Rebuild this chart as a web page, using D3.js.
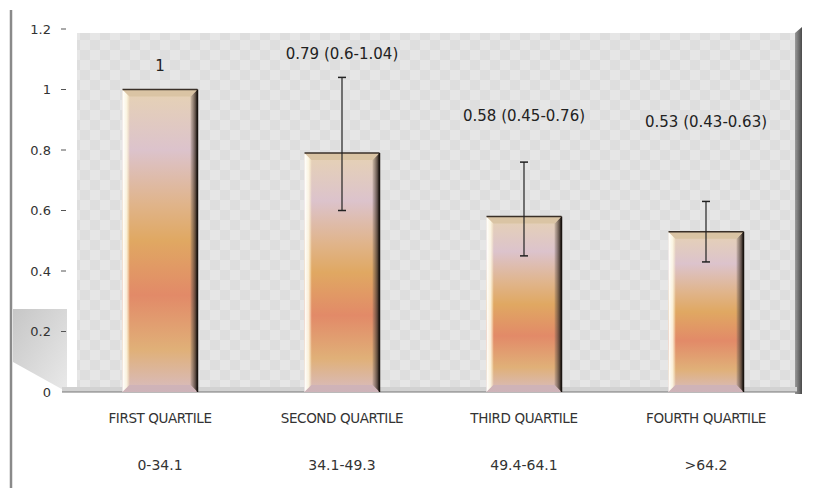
<!DOCTYPE html>
<html>
<head>
<meta charset="utf-8">
<script src="https://cdn.jsdelivr.net/npm/d3@7"></script>
<style>
  body { margin: 0; background: #fff; }
  svg { display: block; font-family: 'DejaVu Sans', sans-serif; }
</style>
</head>
<body>
<svg width="814" height="488"></svg>
<script>
// data
const quartiles = ['FIRST QUARTILE', 'SECOND QUARTILE', 'THIRD QUARTILE', 'FOURTH QUARTILE']
const ranges = ['0-34.1', '34.1-49.3', '49.4-64.1', '>64.2']
const ratios = [1, 0.79, 0.58, 0.53]
const lower = [null, 0.6, 0.45, 0.43]
const upper = [null, 1.04, 0.76, 0.63]
const labels = ['1', '0.79 (0.6-1.04)', '0.58 (0.45-0.76)', '0.53 (0.43-0.63)']
const yTicks = [0, 0.2, 0.4, 0.6, 0.8, 1, 1.2]

// where each value label sits (in chart units, as placed in the original)
const labelLevel = [1.06, 1.1, 0.896, 0.876]

const svg = d3.select('svg')
const plotLeft = 77, plotRight = 797, plotTop = 33, baseY = 392

const x = d3.scaleBand()
  .domain(quartiles)
  .range([69, 797])
  .paddingInner(0.588)
  .paddingOuter(0.294)

const y = d3.scaleLinear()
  .domain([0, 1.2])
  .range([baseY, 29])

const data = quartiles.map((q, i) => ({
  q, range: ranges[i], v: ratios[i], lo: lower[i], hi: upper[i], label: labels[i], ly: labelLevel[i]
}))

const defs = svg.append('defs')

// checker background
const pat = defs.append('pattern')
  .attr('id', 'checker').attr('width', 20).attr('height', 20)
  .attr('patternUnits', 'userSpaceOnUse')
pat.append('rect').attr('width', 20).attr('height', 20).attr('fill', '#dedede')
pat.append('rect').attr('width', 10).attr('height', 10).attr('fill', '#e6e6e6')
pat.append('rect').attr('x', 10).attr('y', 10).attr('width', 10).attr('height', 10).attr('fill', '#e6e6e6')

// bar body gradient
const barGrad = defs.append('linearGradient')
  .attr('id', 'barGrad').attr('x1', 0).attr('y1', 0).attr('x2', 0).attr('y2', 1)
const stops = [
  [0, '#e6d2b4'], [0.2, '#dcc3cc'], [0.38, '#e0b48a'], [0.5, '#e0a862'],
  [0.68, '#e28a68'], [0.86, '#e0b078'], [1, '#d8bcc0']
]
stops.forEach(s => barGrad.append('stop').attr('offset', s[0]).attr('stop-color', s[1]))

const leftGrad = defs.append('linearGradient').attr('id', 'leftGrad')
leftGrad.append('stop').attr('offset', 0).attr('stop-color', '#fff').attr('stop-opacity', 1)
leftGrad.append('stop').attr('offset', 0.6).attr('stop-color', '#fffbe8').attr('stop-opacity', 0.85)
leftGrad.append('stop').attr('offset', 1).attr('stop-color', '#fff4d0').attr('stop-opacity', 0.2)

const rightGrad = defs.append('linearGradient').attr('id', 'rightGrad')
rightGrad.append('stop').attr('offset', 0).attr('stop-color', '#6a5a50').attr('stop-opacity', 0.2)
rightGrad.append('stop').attr('offset', 0.6).attr('stop-color', '#4a3c34').attr('stop-opacity', 0.75)
rightGrad.append('stop').attr('offset', 1).attr('stop-color', '#1a1410').attr('stop-opacity', 1)

const wallGrad = defs.append('linearGradient').attr('id', 'wallGrad')
wallGrad.append('stop').attr('offset', 0).attr('stop-color', '#9a9a9a')
wallGrad.append('stop').attr('offset', 1).attr('stop-color', '#4a4a4a')

const shadowGrad = defs.append('linearGradient').attr('id', 'shadowGrad')
  .attr('x1', 0).attr('y1', 0).attr('x2', 1).attr('y2', 1)
shadowGrad.append('stop').attr('offset', 0).attr('stop-color', '#b8b8b8')
shadowGrad.append('stop').attr('offset', 1).attr('stop-color', '#e4e4e4')

// left frame line
svg.append('line')
  .attr('x1', 11).attr('x2', 11).attr('y1', 10).attr('y2', 488)
  .attr('stroke', '#8a8a8a').attr('stroke-width', 2.5)

// shadow wedge at lower left
svg.append('path')
  .attr('d', 'M13,309 L67,309 L67,392 L13,362 Z')
  .attr('fill', 'url(#shadowGrad)').attr('opacity', 0.8)

// plot back wall
svg.append('rect')
  .attr('x', plotLeft).attr('y', plotTop)
  .attr('width', plotRight - plotLeft).attr('height', baseY - plotTop)
  .attr('fill', 'url(#checker)')

// right wall edge
svg.append('path')
  .attr('d', `M${plotRight - 2},${plotTop} L${plotRight + 5},27 L${plotRight + 5},${baseY + 2} L${plotRight - 2},${baseY + 2} Z`)
  .attr('fill', 'url(#wallGrad)')

// floor strip
svg.append('rect')
  .attr('x', 62).attr('y', baseY - 5).attr('width', plotRight - 62).attr('height', 5)
  .attr('fill', '#d2d2d2')
svg.append('line')
  .attr('x1', 62).attr('x2', plotRight + 3).attr('y1', baseY).attr('y2', baseY)
  .attr('stroke', '#777').attr('stroke-width', 1.2)

// y axis ticks
const yAxis = svg.append('g')
yAxis.selectAll('text').data(yTicks).enter().append('text')
  .attr('x', 51).attr('y', d => y(d)).attr('dy', '0.35em')
  .attr('text-anchor', 'end').attr('font-size', 13).attr('fill', '#333')
  .text(d => d3.format('~g')(d))
yAxis.selectAll('line').data(yTicks.filter(d => d > 0)).enter().append('line')
  .attr('x1', 61).attr('x2', 66).attr('y1', d => y(d)).attr('y2', d => y(d))
  .attr('stroke', '#555').attr('stroke-width', 1)

// bars
const bars = svg.append('g').selectAll('g').data(data).enter().append('g')
  .attr('transform', d => `translate(${x(d.q)},0)`)
const bw = x.bandwidth()
const bev = 7

bars.append('rect')
  .attr('x', 0).attr('y', d => y(d.v))
  .attr('width', bw).attr('height', d => baseY - y(d.v))
  .attr('fill', 'url(#barGrad)')
// left highlight bevel
bars.append('path')
  .attr('d', d => `M0,${y(d.v)} L${bev},${y(d.v) + bev} L${bev},${baseY - bev} L0,${baseY} Z`)
  .attr('fill', 'url(#leftGrad)')
// right dark bevel
bars.append('path')
  .attr('d', d => `M${bw},${y(d.v)} L${bw - bev},${y(d.v) + bev} L${bw - bev},${baseY - bev} L${bw},${baseY} Z`)
  .attr('fill', 'url(#rightGrad)')
// top bevel
bars.append('path')
  .attr('d', d => `M0,${y(d.v)} L${bw},${y(d.v)} L${bw - bev},${y(d.v) + bev} L${bev},${y(d.v) + bev} Z`)
  .attr('fill', '#d8c2a2').attr('opacity', 0.9)
bars.append('line')
  .attr('x1', 0).attr('x2', bw).attr('y1', d => y(d.v)).attr('y2', d => y(d.v))
  .attr('stroke', '#3a3028').attr('stroke-width', 1.5)
// bottom bevel
bars.append('path')
  .attr('d', `M${bev},${baseY - bev} L${bw - bev},${baseY - bev} L${bw},${baseY} L0,${baseY} Z`)
  .attr('fill', '#cdb2b8').attr('opacity', 0.9)
bars.append('line')
  .attr('x1', bw).attr('x2', bw).attr('y1', d => y(d.v)).attr('y2', baseY)
  .attr('stroke', '#1a1410').attr('stroke-width', 1.5)

// error bars
const err = bars.filter(d => d.lo !== null)
err.append('line')
  .attr('x1', bw / 2).attr('x2', bw / 2)
  .attr('y1', d => y(d.lo)).attr('y2', d => y(d.hi))
  .attr('stroke', '#222').attr('stroke-width', 1.2)
err.selectAll('.cap').data(d => [d.lo, d.hi]).enter().append('line')
  .attr('x1', bw / 2 - 4).attr('x2', bw / 2 + 4)
  .attr('y1', d => y(d)).attr('y2', d => y(d))
  .attr('stroke', '#222').attr('stroke-width', 1.5)

// value labels
bars.append('text')
  .attr('x', bw / 2).attr('y', d => y(d.ly))
  .attr('text-anchor', 'middle').attr('font-size', 15).attr('fill', '#222')
  .text(d => d.label)

// category labels
const cats = svg.append('g')
cats.selectAll('.cat').data(data).enter().append('text')
  .attr('x', d => x(d.q) + bw / 2).attr('y', 423)
  .attr('text-anchor', 'middle').attr('font-size', 13.5).attr('fill', '#333')
  .attr('letter-spacing', '-0.4px')
  .text(d => d.q)
cats.selectAll('.rng').data(data).enter().append('text')
  .attr('x', d => x(d.q) + bw / 2).attr('y', 470)
  .attr('text-anchor', 'middle').attr('font-size', 14).attr('fill', '#333')
  .text(d => d.range)
</script>
</body>
</html>
